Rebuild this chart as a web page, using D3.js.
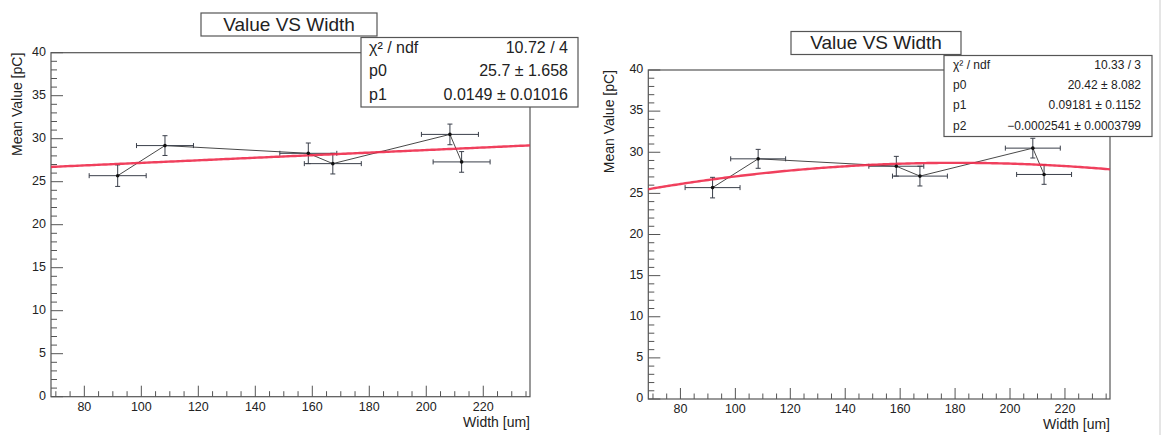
<!DOCTYPE html>
<html>
<head>
<meta charset="utf-8">
<script src="https://cdn.jsdelivr.net/npm/d3@7"></script>
<style>
  html, body { margin: 0; padding: 0; background: #fff; }
  svg { display: block; font-family: "Liberation Sans", Arial, Helvetica, sans-serif; }
</style>
</head>
<body>
<svg id="chart" width="1165" height="435"></svg>
<script>
// Measured points: mean value [pC] versus width [um]
const widths      = [91.7, 108.3, 158.6, 167.2, 208.3, 212.4];
const meanValues  = [25.7, 29.2, 28.3, 27.1, 30.5, 27.3];
const widthErrors = [10, 10, 10, 10, 10, 10];
const valueErrors = [1.25, 1.15, 1.2, 1.2, 1.2, 1.2];

// Axis ranges and tick settings
const xRange = [68.3, 236.4];
const yRange = [0, 40];
const xMajorTicks = [80, 100, 120, 140, 160, 180, 200, 220];
const yMajorTicks = [0, 5, 10, 15, 20, 25, 30, 35, 40];

// Fit results: linear (pol1) and quadratic (pol2)
const linearParams = [25.7, 0.0149];
const quadParams   = [20.42, 0.09181, -0.0002541];
const linearStats = [
  ["\u03C7\u00B2 / ndf", "10.72 / 4"],
  ["p0", "25.7 \u00B1 1.658"],
  ["p1", "0.0149 \u00B1 0.01016"]
];
const quadStats = [
  ["\u03C7\u00B2 / ndf", "10.33 / 3"],
  ["p0", "20.42 \u00B1 8.082"],
  ["p1", "0.09181 \u00B1 0.1152"],
  ["p2", "\u22120.0002541 \u00B1 0.0003799"]
];

const svg = d3.select("#chart");
const ink = "#222";
const frameColor = "#555";

// faint edge of a neighbouring pad
svg.append("line").attr("x1", 1160).attr("x2", 1160).attr("y1", 0).attr("y2", 435)
  .attr("stroke", "#ddd").attr("stroke-width", 1.5);

function drawPanel(cfg) {
  const g = svg.append("g");
  const x = d3.scaleLinear().domain(xRange).range([cfg.left, cfg.right]);
  const y = d3.scaleLinear().domain(yRange).range([cfg.bottom, cfg.top]);

  // frame
  g.append("rect")
    .attr("x", cfg.left).attr("y", cfg.top)
    .attr("width", cfg.right - cfg.left).attr("height", cfg.bottom - cfg.top)
    .attr("fill", "none").attr("stroke", frameColor).attr("stroke-width", 1.2);

  // x axis ticks (drawn upward into the frame)
  const xMinor = d3.range(70, xRange[1], 5);
  g.append("g").selectAll("line").data(xMinor).join("line")
    .attr("x1", d => x(d)).attr("x2", d => x(d))
    .attr("y1", cfg.bottom).attr("y2", d => cfg.bottom - (xMajorTicks.includes(d) ? 11 : 5.5))
    .attr("stroke", frameColor).attr("stroke-width", 1);
  g.append("g").selectAll("text").data(xMajorTicks).join("text")
    .attr("x", d => x(d)).attr("y", cfg.bottom + 11)
    .attr("text-anchor", "middle").attr("dominant-baseline", "middle")
    .attr("font-size", cfg.tickFont).attr("fill", ink)
    .text(d => d);

  // y axis ticks (drawn rightward into the frame)
  const yMinor = d3.range(0, 41, 1);
  g.append("g").selectAll("line").data(yMinor).join("line")
    .attr("x1", cfg.left).attr("x2", d => cfg.left + (d % 5 === 0 ? 12 : 6))
    .attr("y1", d => y(d)).attr("y2", d => y(d))
    .attr("stroke", frameColor).attr("stroke-width", 1);
  g.append("g").selectAll("text").data(yMajorTicks).join("text")
    .attr("x", cfg.left - 5).attr("y", d => y(d))
    .attr("text-anchor", "end").attr("dominant-baseline", "middle")
    .attr("font-size", cfg.tickFont).attr("fill", ink)
    .text(d => d);

  // axis titles
  g.append("text")
    .attr("x", cfg.right).attr("y", cfg.bottom + 30)
    .attr("text-anchor", "end").attr("font-size", cfg.axisFont).attr("fill", ink)
    .text("Width [um]");
  g.append("text")
    .attr("transform", `translate(${cfg.yTitleX},${cfg.top}) rotate(-90)`)
    .attr("text-anchor", "end").attr("dominant-baseline", "middle")
    .attr("font-size", cfg.axisFont).attr("fill", ink)
    .text("Mean Value [pC]");

  // data: connecting polyline
  const pts = widths.map((w, i) => ({ w, v: meanValues[i], ew: widthErrors[i], ev: valueErrors[i] }));
  g.append("path")
    .datum(pts)
    .attr("d", d3.line().x(d => x(d.w)).y(d => y(d.v)))
    .attr("fill", "none").attr("stroke", "#333").attr("stroke-width", 0.9);

  // error bars with end caps
  const eb = g.append("g").attr("stroke", "#3a3f4a").attr("stroke-width", 1);
  pts.forEach(d => {
    eb.append("line").attr("x1", x(d.w - d.ew)).attr("x2", x(d.w + d.ew))
      .attr("y1", y(d.v)).attr("y2", y(d.v));
    eb.append("line").attr("x1", x(d.w)).attr("x2", x(d.w))
      .attr("y1", y(d.v - d.ev)).attr("y2", y(d.v + d.ev));
    [d.w - d.ew, d.w + d.ew].forEach(e =>
      eb.append("line").attr("x1", x(e)).attr("x2", x(e))
        .attr("y1", y(d.v) - 2.5).attr("y2", y(d.v) + 2.5));
    [d.v - d.ev, d.v + d.ev].forEach(e =>
      eb.append("line").attr("x1", x(d.w) - 2.5).attr("x2", x(d.w) + 2.5)
        .attr("y1", y(e)).attr("y2", y(e)));
  });

  // fit curve from the fitted parameters
  const fitX = d3.range(xRange[0], xRange[1] + 0.001, (xRange[1] - xRange[0]) / 200);
  const poly = t => cfg.params.reduce((s, p, k) => s + p * Math.pow(t, k), 0);
  g.append("path")
    .datum(fitX)
    .attr("d", d3.line().x(t => x(t)).y(t => y(poly(t))))
    .attr("fill", "none").attr("stroke", "#ee2b4b").attr("stroke-width", 2.4)
    .attr("stroke-opacity", 0.9);

  // markers
  g.append("g").selectAll("circle").data(pts).join("circle")
    .attr("cx", d => x(d.w)).attr("cy", d => y(d.v)).attr("r", 1.8)
    .attr("fill", "#111");

  // title box
  const tb = cfg.titleBox;
  g.append("rect").attr("x", tb[0]).attr("y", tb[1]).attr("width", tb[2] - tb[0]).attr("height", tb[3] - tb[1])
    .attr("fill", "#fff").attr("stroke", frameColor).attr("stroke-width", 1.2);
  g.append("text")
    .attr("x", (tb[0] + tb[2]) / 2).attr("y", (tb[1] + tb[3]) / 2 + 1)
    .attr("text-anchor", "middle").attr("dominant-baseline", "middle")
    .attr("font-size", 19).attr("fill", ink)
    .text("Value VS Width");

  // statistics box
  const sb = cfg.statsBox;
  g.append("rect").attr("x", sb[0]).attr("y", sb[1]).attr("width", sb[2] - sb[0]).attr("height", sb[3] - sb[1])
    .attr("fill", "#fff").attr("stroke", frameColor).attr("stroke-width", 1.2);
  const rowH = (sb[3] - sb[1]) / cfg.stats.length;
  cfg.stats.forEach((row, i) => {
    const cy = sb[1] + rowH * (i + 0.5);
    g.append("text").attr("x", sb[0] + cfg.statsPad).attr("y", cy)
      .attr("dominant-baseline", "middle").attr("font-size", cfg.statsFont).attr("fill", ink)
      .text(row[0]);
    g.append("text").attr("x", sb[2] - cfg.statsPad - 2).attr("y", cy)
      .attr("text-anchor", "end").attr("dominant-baseline", "middle")
      .attr("font-size", cfg.statsFont).attr("fill", ink)
      .text(row[1]);
  });
}

drawPanel({
  left: 51, right: 530, top: 52.7, bottom: 396.7,
  params: linearParams, stats: linearStats,
  titleBox: [201, 13, 377, 36],
  statsBox: [361, 37.5, 578, 107],
  statsFont: 16, statsPad: 8,
  tickFont: 12.5, axisFont: 14, yTitleX: 18
});

drawPanel({
  left: 648.3, right: 1110, top: 70, bottom: 399,
  params: quadParams, stats: quadStats,
  titleBox: [791, 31.5, 961, 54.5],
  statsBox: [944, 55.5, 1152, 136.5],
  statsFont: 12, statsPad: 9,
  tickFont: 12.5, axisFont: 14, yTitleX: 610.5
});
</script>
</body>
</html>
